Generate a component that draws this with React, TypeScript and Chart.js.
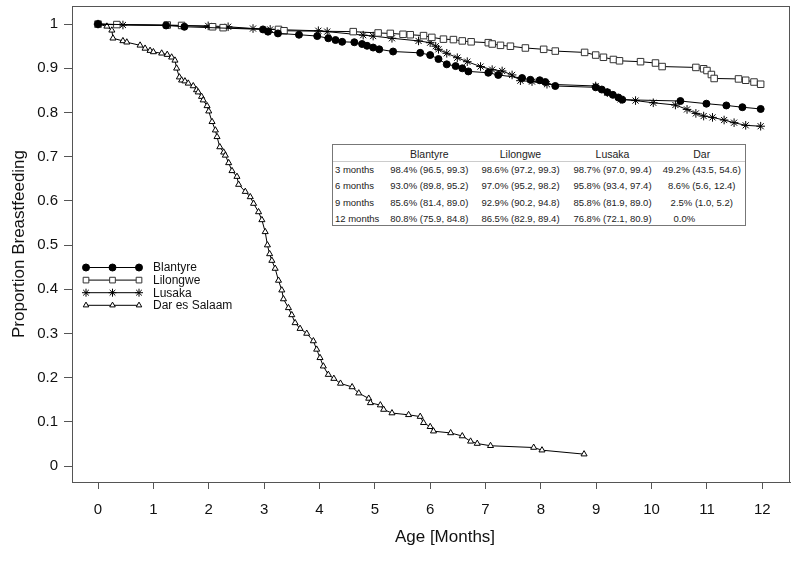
import React, { useEffect, useRef } from "react";
import { Chart, registerables } from "chart.js";
import { drawPoint } from "chart.js/helpers";

Chart.register(...registerables);

// ---------- Data ----------
const seriesLabels = ["Blantyre", "Lilongwe", "Lusaka", "Dar es Salaam"];

const blantyreMonths = [0, 1.23, 1.56, 2.98, 3.07, 3.25, 3.63, 3.96, 4.16, 4.29, 4.41, 4.63, 4.77, 4.86, 4.97, 5.08, 5.33, 5.82, 6.0, 6.15, 6.3, 6.46, 6.58, 6.69, 7.05, 7.23, 7.66, 7.81, 7.98, 8.08, 8.26, 8.99, 9.1, 9.2, 9.3, 9.4, 9.47, 10.52, 10.99, 11.35, 11.64, 11.97];
const blantyreProp = [1.0, 0.997, 0.994, 0.988, 0.983, 0.979, 0.976, 0.973, 0.968, 0.964, 0.96, 0.959, 0.955, 0.951, 0.947, 0.943, 0.938, 0.935, 0.93, 0.921, 0.909, 0.905, 0.9, 0.893, 0.89, 0.885, 0.878, 0.874, 0.873, 0.869, 0.86, 0.857, 0.852, 0.846, 0.84, 0.834, 0.829, 0.826, 0.82, 0.816, 0.812, 0.808];

const lilongweMonths = [0, 0.34, 1.25, 1.51, 2.07, 2.26, 3.26, 3.36, 4.61, 5.06, 5.28, 5.51, 5.64, 5.88, 6.03, 6.24, 6.42, 6.58, 6.74, 7.05, 7.12, 7.27, 7.45, 7.72, 8.05, 8.26, 8.79, 8.99, 9.13, 9.31, 9.42, 9.8, 10.07, 10.19, 10.8, 10.94, 11.0, 11.08, 11.13, 11.57, 11.7, 11.85, 11.97];
const lilongweProp = [1.0, 0.999, 0.998, 0.997, 0.994, 0.992, 0.988, 0.985, 0.983, 0.98, 0.979, 0.977, 0.976, 0.974, 0.97, 0.966, 0.965, 0.962, 0.96, 0.958, 0.955, 0.952, 0.95, 0.946, 0.943, 0.939, 0.936, 0.93, 0.925, 0.92, 0.917, 0.915, 0.912, 0.904, 0.902, 0.899, 0.895, 0.886, 0.877, 0.876, 0.873, 0.869, 0.864];

const lusakaMonths = [0, 0.45, 1.99, 2.35, 2.8, 3.11, 3.98, 4.14, 4.79, 4.97, 5.31, 5.79, 6.0, 6.1, 6.15, 6.3, 6.49, 6.67, 6.91, 7.12, 7.3, 7.48, 7.63, 7.84, 8.11, 8.99, 9.2, 9.44, 9.71, 10.03, 10.43, 10.64, 10.8, 10.94, 11.1, 11.31, 11.49, 11.7, 11.97];
const lusakaProp = [1.0, 0.998, 0.996, 0.994, 0.99, 0.988, 0.985, 0.983, 0.975, 0.973, 0.968, 0.962, 0.958, 0.95, 0.943, 0.934, 0.924, 0.915, 0.904, 0.897, 0.894, 0.885, 0.872, 0.87, 0.864, 0.86, 0.845, 0.83, 0.827, 0.822, 0.817, 0.807, 0.798, 0.792, 0.789, 0.783, 0.777, 0.771, 0.769];

const darMonths = [0, 0.16, 0.25, 0.27, 0.45, 0.52, 0.76, 0.85, 0.94, 1.0, 1.15, 1.25, 1.33, 1.39, 1.42, 1.47, 1.51, 1.57, 1.63, 1.72, 1.78, 1.81, 1.87, 1.9, 1.97, 2.0, 2.06, 2.12, 2.15, 2.2, 2.27, 2.3, 2.36, 2.42, 2.51, 2.54, 2.66, 2.75, 2.81, 2.9, 2.96, 3.02, 3.06, 3.1, 3.14, 3.2, 3.26, 3.32, 3.35, 3.44, 3.5, 3.56, 3.65, 3.77, 3.89, 3.95, 4.01, 4.07, 4.16, 4.26, 4.38, 4.59, 4.71, 4.89, 4.92, 5.1, 5.16, 5.31, 5.61, 5.82, 5.88, 6.0, 6.06, 6.37, 6.58, 6.73, 6.85, 7.09, 7.87, 8.02, 8.78];
const darProp = [1.0, 0.995, 0.986, 0.968, 0.962, 0.959, 0.952, 0.945, 0.94, 0.937, 0.934, 0.931, 0.925, 0.918, 0.9, 0.88, 0.873, 0.871, 0.866, 0.86, 0.851, 0.846, 0.836, 0.828, 0.815, 0.803, 0.779, 0.76, 0.745, 0.722, 0.71, 0.703, 0.686, 0.668, 0.655, 0.637, 0.621, 0.609, 0.594, 0.575, 0.557, 0.53, 0.5, 0.48, 0.465, 0.447, 0.42, 0.398, 0.378, 0.358, 0.342, 0.324, 0.311, 0.3, 0.283, 0.264, 0.245, 0.226, 0.207, 0.198, 0.187, 0.179, 0.165, 0.153, 0.143, 0.138, 0.128, 0.12, 0.116, 0.112, 0.098, 0.089, 0.079, 0.075, 0.068, 0.056, 0.051, 0.046, 0.042, 0.036, 0.027];

const xTicks = [0, 1, 2, 3, 4, 5, 6, 7, 8, 9, 10, 11, 12];
const yTicks = [0, 0.1, 0.2, 0.3, 0.4, 0.5, 0.6, 0.7, 0.8, 0.9, 1];

const xAxisTitle = "Age [Months]";
const yAxisTitle = "Proportion Breastfeeding";

// Inset table
const tableHeaders = ["Blantyre", "Lilongwe", "Lusaka", "Dar"];
const tableRowLabels = ["3 months", "6 months", "9 months", "12 months"];
const tableBlantyre = ["98.4% (96.5, 99.3)", "93.0% (89.8, 95.2)", "85.6% (81.4, 89.0)", "80.8% (75.9, 84.8)"];
const tableLilongwe = ["98.6% (97.2, 99.3)", "97.0% (95.2, 98.2)", "92.9% (90.2, 94.8)", "86.5% (82.9, 89.4)"];
const tableLusaka = ["98.7% (97.0, 99.4)", "95.8% (93.4, 97.4)", "85.8% (81.9, 89.0)", "76.8% (72.1, 80.9)"];
const tableDar = ["49.2% (43.5, 54.6)", "8.6% (5.6, 12.4)", "2.5% (1.0, 5.2)", "0.0%"];

// ---------- Helpers ----------
const toPoints = (xs: number[], ys: number[]) => xs.map((x, i) => ({ x, y: ys[i] }));

const FONT_MAIN = '"Liberation Sans", Arial, sans-serif';

const framePlugin = {
  id: "frame",
  afterDatasetsDraw(chart: any) {
    const { ctx, chartArea } = chart;
    ctx.save();
    ctx.strokeStyle = "#555";
    ctx.lineWidth = 1;
    ctx.strokeRect(
      Math.round(chartArea.left) + 0.5,
      Math.round(chartArea.top) + 0.5,
      Math.round(chartArea.right - chartArea.left) - 1,
      Math.round(chartArea.bottom - chartArea.top)
    );
    ctx.restore();
  },
};

// x-axis title drawn slightly right of centre, as in the source figure
const xTitlePlugin = {
  id: "xTitle",
  afterDraw(chart: any) {
    const { ctx, chartArea } = chart;
    ctx.save();
    ctx.fillStyle = "#111";
    ctx.font = `17px ${FONT_MAIN}`;
    ctx.textAlign = "center";
    ctx.textBaseline = "middle";
    ctx.fillText(xAxisTitle, (chartArea.left + chartArea.right) / 2 + 14, 537);
    ctx.restore();
  },
};

const legendPlugin = {
  id: "insetLegend",
  afterDraw(chart: any) {
    const { ctx } = chart;
    const x0 = 86;
    const x1 = 139;
    const textX = 153;
    const top = 267.5;
    const step = 12.6;
    chart.data.datasets.forEach((ds: any, i: number) => {
      const y = top + i * step;
      ctx.save();
      ctx.strokeStyle = "#000";
      ctx.lineWidth = 1;
      ctx.beginPath();
      ctx.moveTo(x0, y);
      ctx.lineTo(x1, y);
      ctx.stroke();
      ctx.fillStyle = ds.pointBackgroundColor;
      ctx.strokeStyle = ds.pointBorderColor;
      ctx.lineWidth = 1;
      [x0, (x0 + x1) / 2, x1].forEach((px) => {
        drawPoint(
          ctx,
          { pointStyle: ds.pointStyle, radius: ds.legendRadius, borderWidth: 1, rotation: 0 } as any,
          px,
          y
        );
      });
      ctx.fillStyle = "#111";
      ctx.font = `12px ${FONT_MAIN}`;
      ctx.textBaseline = "middle";
      ctx.textAlign = "left";
      ctx.fillText(ds.label, textX, y + 0.5);
      ctx.restore();
    });
  },
};

// table geometry (layout only)
const tableLeft = 332;
const tableTop = 144;
const tableWidth = 414;
const tableHeight = 82;
const colEdges = [0, 51, 141.5, 233.5, 325.5, 412];
const rowCenters = [8.7, 25.3, 41, 57.7, 74.3];

function InsetTable() {
  const cols = [tableBlantyre, tableLilongwe, tableLusaka, tableDar];
  const cell = (text: string, left: number, width: number, center: number, size: number, align: string, key: string, pad = 0) => (
    <div
      key={key}
      style={{
        position: "absolute",
        left: left + pad,
        width: width - pad,
        top: center - 7,
        height: 14,
        lineHeight: "14px",
        fontSize: size,
        fontFamily: FONT_MAIN,
        color: "#222",
        textAlign: align as any,
        whiteSpace: "nowrap",
      }}
    >
      {text}
    </div>
  );
  const items: any[] = [];
  tableHeaders.forEach((h, c) => {
    items.push(cell(h, colEdges[c + 1], colEdges[c + 2] - colEdges[c + 1], rowCenters[0], 10.5, "center", `h${c}`));
  });
  tableRowLabels.forEach((r, ri) => {
    items.push(cell(r, 0, colEdges[1], rowCenters[ri + 1], 9.5, "left", `r${ri}`, 2));
    cols.forEach((col, c) => {
      const txt = col[ri];
      const isShort = txt.length < 6;
      items.push(
        cell(
          txt,
          colEdges[c + 1],
          colEdges[c + 2] - colEdges[c + 1],
          rowCenters[ri + 1],
          9.5,
          isShort ? "left" : "center",
          `c${ri}-${c}`,
          isShort ? 15 : 0
        )
      );
    });
  });
  return (
    <div
      style={{
        position: "absolute",
        left: tableLeft,
        top: tableTop,
        width: tableWidth,
        height: tableHeight,
        border: "1px solid #777",
        background: "#fff",
        boxSizing: "border-box",
      }}
    >
      <div style={{ position: "absolute", left: 0, right: 0, top: 16, height: 0, borderTop: "1px solid #ccc" }} />
      {items}
    </div>
  );
}

export default function App() {
  const canvasRef = useRef<HTMLCanvasElement | null>(null);

  useEffect(() => {
    if (!canvasRef.current) return;
    const mk = (label: string, xs: number[], ys: number[], style: string, radius: number, legendRadius: number, bg: string, border: string) => ({
      label,
      data: toPoints(xs, ys),
      borderColor: "#000",
      borderWidth: 1,
      pointStyle: style,
      pointRadius: radius,
      pointBackgroundColor: bg,
      pointBorderColor: border,
      pointBorderWidth: 1,
      legendRadius,
      fill: false,
      tension: 0,
    });
    const chart = new Chart(canvasRef.current, {
      type: "line",
      data: {
        datasets: [
          mk(seriesLabels[0], blantyreMonths, blantyreProp, "circle", 3.5, 3.5, "#000", "#000"),
          mk(seriesLabels[1], lilongweMonths, lilongweProp, "rect", 4.6, 4, "#fff", "#333"),
          mk(seriesLabels[2], lusakaMonths, lusakaProp, "star", 4.3, 4, "#000", "#000"),
          mk(seriesLabels[3], darMonths, darProp, "triangle", 3.5, 3.2, "#fff", "#000"),
        ] as any,
      },
      options: {
        animation: false,
        responsive: false,
        maintainAspectRatio: false,
        layout: { padding: { left: 0, right: 10, top: 6, bottom: 0 } },
        plugins: {
          legend: { display: false },
          tooltip: { enabled: false },
        },
        scales: {
          x: {
            type: "linear",
            min: -0.47,
            max: 12.5,
            afterBuildTicks: (s: any) => {
              s.ticks = xTicks.map((v) => ({ value: v }));
            },
            afterFit: (s: any) => {
              s.height = 80;
              s.paddingLeft = 0;
              s.paddingRight = 0;
            },
            grid: { display: true, drawOnChartArea: false, drawTicks: true, tickLength: 7, color: "#555" },
            border: { display: true, color: "#555" },
            ticks: {
              padding: 12,
              maxRotation: 0,
              autoSkip: false,
              color: "#111",
              font: { family: FONT_MAIN, size: 15 },
              callback: (v: any) => String(v),
            },
            title: { display: false },
          },
          y: {
            type: "linear",
            min: -0.036,
            max: 1.041,
            afterBuildTicks: (s: any) => {
              s.ticks = yTicks.map((v) => ({ value: v }));
            },
            afterFit: (s: any) => {
              s.width = 72;
              s.paddingTop = 0;
              s.paddingBottom = 0;
            },
            grid: { display: true, drawOnChartArea: false, drawTicks: true, tickLength: 8, color: "#555" },
            border: { display: true, color: "#555" },
            ticks: {
              padding: 6,
              autoSkip: false,
              color: "#111",
              font: { family: FONT_MAIN, size: 15 },
              callback: (v: any) => String(Number(Number(v).toFixed(1))),
            },
            title: {
              display: true,
              text: yAxisTitle,
              color: "#111",
              font: { family: FONT_MAIN, size: 17 },
              padding: { top: 9, bottom: 0 },
            },
          },
        },
      } as any,
      plugins: [framePlugin, legendPlugin, xTitlePlugin],
    });
    return () => chart.destroy();
  }, []);

  return (
    <div style={{ position: "fixed", left: 0, top: 0, width: 800, height: 562, background: "#fff" }}>
      <canvas ref={canvasRef} width={800} height={562} style={{ width: 800, height: 562, display: "block" }} />
      <InsetTable />
    </div>
  );
}
